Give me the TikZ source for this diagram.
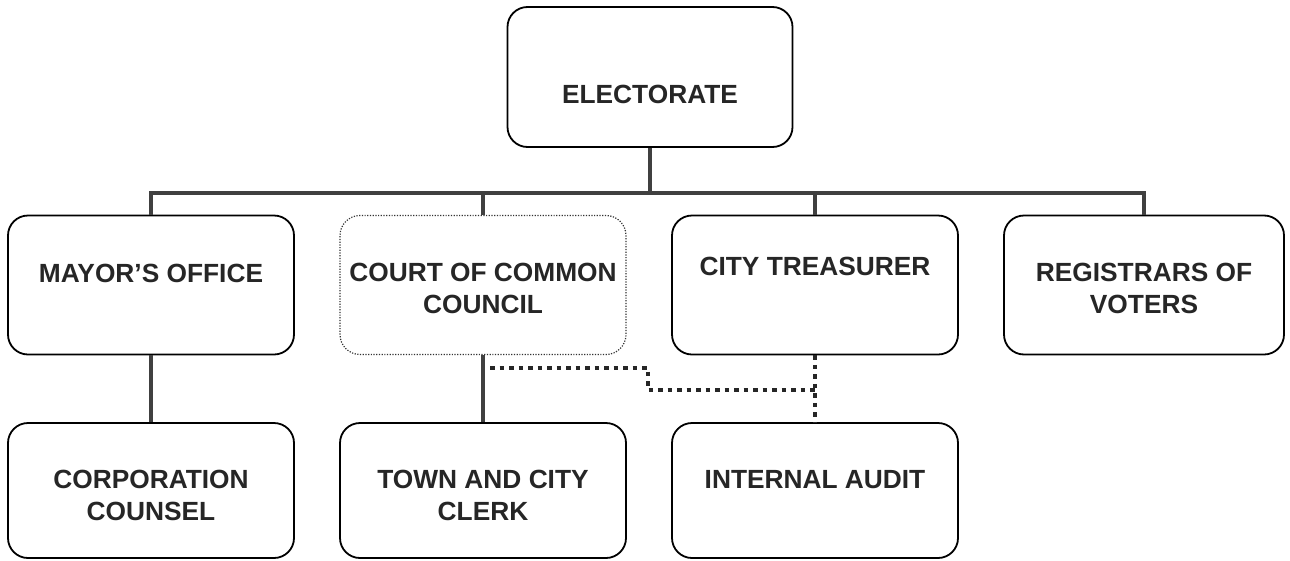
\documentclass[tikz,border=0pt]{standalone}
\usepackage{fontspec}
\setmainfont{Liberation Sans}
\usetikzlibrary{calc}
\tikzset{
  box/.style={draw=black, line width=1.8pt, rounded corners=20pt, minimum width=286pt, minimum height=139pt, inner sep=0pt, fill=white},
  dotbox/.style={box, draw=black!80, line width=1.2pt, dash pattern=on 1.2pt off 1.5pt},
  lbl/.style={anchor=base, align=center, inner sep=0pt, font=\fontsize{26.3}{32}\selectfont\bfseries, text=black!85},
  conn/.style={draw=black!75, line width=4pt, line join=miter},
  dotconn/.style={draw=black!85, line width=4.5pt, dash pattern=on 4.5pt off 5pt}
}
\begin{document}
\begin{tikzpicture}[x=1pt,y=-1pt]
\useasboundingbox (0,0) rectangle (1290,560);
% boxes
\node[box, minimum width=285pt, minimum height=140pt] (elec) at (650,77) {};
\node[box] (mayor) at (151,285) {};
\node[dotbox] (court) at (483,285) {};
\node[box] (treas) at (815,285) {};
\node[box, minimum width=280pt] (reg) at (1144,285) {};
\node[box, minimum height=135pt] (corp) at (151,490.5) {};
\node[box, minimum height=135pt] (town) at (483,490.5) {};
\node[box, minimum height=135pt] (audit) at (815,490.5) {};
% coordinates
\coordinate (bar) at (650,193);
\coordinate (j1) at (648,368);
\coordinate (j2) at (648,390);
% connectors
\draw[conn] (elec.south) -- (bar);
\draw[conn] (mayor.north) -- (mayor.north |- bar) -- (reg.north |- bar) -- (reg.north);
\draw[conn] (court.north) -- (court.north |- bar);
\draw[conn] (treas.north) -- (treas.north |- bar);
\draw[conn] (mayor.south) -- (corp.north);
\draw[conn] (court.south) -- (town.north);
\draw[dotconn] ($(court.south |- j1)+(7,0)$) -- (j1) -- (j2) -- (j2 -| treas.south);
\draw[dotconn] (treas.south) -- (audit.north);
% labels
\node[lbl] (telec) at (650,103) {ELECTORATE};
\node[lbl] (tmayor) at (151,282) {MAYOR’S OFFICE};
\node[lbl] (tcourt) at (483,313) {COURT OF COMMON\\COUNCIL};
\node[lbl] (ttreas) at (815,275) {CITY TREASURER};
\node[lbl] (treg) at (1144,313) {REGISTRARS OF\\VOTERS};
\node[lbl] (tcorp) at (151,520) {CORPORATION\\COUNSEL};
\node[lbl] (ttown) at (483,520) {TOWN AND CITY\\CLERK};
\node[lbl] (taudit) at (815,488) {INTERNAL AUDIT};
\end{tikzpicture}
\end{document}
